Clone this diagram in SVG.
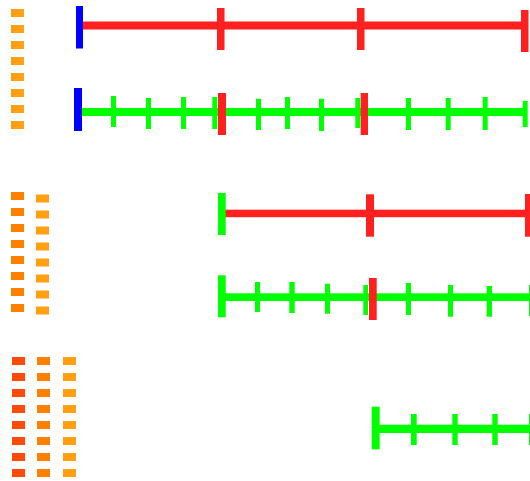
<svg xmlns="http://www.w3.org/2000/svg" width="530" height="481" viewBox="0 0 530 481">
<style>
.o1{fill:#ffa014}.o2{fill:#ff8000}.o3{fill:#ff4a0a}
.r{fill:#ff2020}.g{fill:#00ff00}.b{fill:#0000ff}
</style>
<rect width="530" height="481" fill="#ffffff"/>
<g id="legend1">
<rect class="o1" x="11" y="9" width="13" height="8"/>
<rect class="o1" x="11" y="25" width="13" height="8"/>
<rect class="o1" x="11" y="41" width="13" height="8"/>
<rect class="o1" x="11" y="57" width="13" height="8"/>
<rect class="o1" x="11" y="73" width="13" height="8"/>
<rect class="o1" x="11" y="89" width="13" height="8"/>
<rect class="o1" x="11" y="105" width="13" height="8"/>
<rect class="o1" x="11" y="121" width="13" height="8"/>
</g>
<g id="legend2">
<rect class="o2" x="11" y="192" width="13" height="8"/>
<rect class="o2" x="11" y="208" width="13" height="8"/>
<rect class="o2" x="11" y="224" width="13" height="8"/>
<rect class="o2" x="11" y="240" width="13" height="8"/>
<rect class="o2" x="11" y="256" width="13" height="8"/>
<rect class="o2" x="11" y="272" width="13" height="8"/>
<rect class="o2" x="11" y="288" width="13" height="8"/>
<rect class="o2" x="11" y="304" width="13" height="8"/>
<rect class="o1" x="36" y="194.5" width="13" height="8"/>
<rect class="o1" x="36" y="210.5" width="13" height="8"/>
<rect class="o1" x="36" y="226.5" width="13" height="8"/>
<rect class="o1" x="36" y="242.5" width="13" height="8"/>
<rect class="o1" x="36" y="258.5" width="13" height="8"/>
<rect class="o1" x="36" y="274.5" width="13" height="8"/>
<rect class="o1" x="36" y="290.5" width="13" height="8"/>
<rect class="o1" x="36" y="306.5" width="13" height="8"/>
</g>
<g id="legend3">
<rect class="o3" x="12" y="357" width="13" height="8"/>
<rect class="o3" x="12" y="373" width="13" height="8"/>
<rect class="o3" x="12" y="389" width="13" height="8"/>
<rect class="o3" x="12" y="405" width="13" height="8"/>
<rect class="o3" x="12" y="421" width="13" height="8"/>
<rect class="o3" x="12" y="437" width="13" height="8"/>
<rect class="o3" x="12" y="453" width="13" height="8"/>
<rect class="o3" x="12" y="469" width="13" height="8"/>
<rect class="o2" x="37" y="357" width="13" height="8"/>
<rect class="o2" x="37" y="373" width="13" height="8"/>
<rect class="o2" x="37" y="389" width="13" height="8"/>
<rect class="o2" x="37" y="405" width="13" height="8"/>
<rect class="o2" x="37" y="421" width="13" height="8"/>
<rect class="o2" x="37" y="437" width="13" height="8"/>
<rect class="o2" x="37" y="453" width="13" height="8"/>
<rect class="o2" x="37" y="469" width="13" height="8"/>
<rect class="o1" x="63" y="357" width="13" height="8"/>
<rect class="o1" x="63" y="373" width="13" height="8"/>
<rect class="o1" x="63" y="389" width="13" height="8"/>
<rect class="o1" x="63" y="405" width="13" height="8"/>
<rect class="o1" x="63" y="421" width="13" height="8"/>
<rect class="o1" x="63" y="437" width="13" height="8"/>
<rect class="o1" x="63" y="453" width="13" height="8"/>
<rect class="o1" x="63" y="469" width="13" height="8"/>
</g>
<g id="row1">
<rect class="r" x="83" y="21.5" width="442" height="8"/>
<rect class="b" x="76" y="6" width="7" height="42.5"/>
<rect class="r" x="217" y="8" width="7.5" height="42"/>
<rect class="r" x="357" y="8" width="7.5" height="42"/>
<rect class="r" x="521" y="10" width="7.5" height="42"/>
</g>
<g id="row2">
<rect class="g" x="82" y="108" width="445" height="8"/>
<rect class="b" x="74" y="88" width="8" height="43"/>
<rect class="g" x="111" y="96" width="5" height="31"/>
<rect class="g" x="146" y="98" width="5" height="31"/>
<rect class="g" x="181" y="97" width="5" height="32"/>
<rect class="g" x="212.3" y="97" width="5" height="32"/>
<rect class="r" x="218" y="93" width="8" height="42"/>
<rect class="g" x="256" y="98.7" width="5" height="31.3"/>
<rect class="g" x="285" y="97" width="5" height="32"/>
<rect class="g" x="319" y="98.7" width="5" height="32.3"/>
<rect class="g" x="355.3" y="98" width="5" height="30"/>
<rect class="r" x="360.7" y="93" width="7.3" height="42"/>
<rect class="g" x="406" y="98" width="5" height="32"/>
<rect class="g" x="445.7" y="98" width="5" height="32"/>
<rect class="g" x="482.7" y="97" width="5" height="33"/>
<rect class="g" x="522.7" y="101" width="5" height="26"/>
</g>
<g id="row3">
<rect class="r" x="225" y="209.7" width="305" height="7.5"/>
<rect class="g" x="218" y="193" width="7.7" height="42"/>
<rect class="r" x="366" y="194.3" width="8" height="42.4"/>
<rect class="r" x="525" y="194" width="7" height="42.7"/>
</g>
<g id="row4">
<rect class="g" x="225" y="293.3" width="305" height="7.7"/>
<rect class="g" x="218" y="275.3" width="7.7" height="42"/>
<rect class="g" x="255" y="282" width="5" height="30"/>
<rect class="g" x="289.3" y="282" width="5.4" height="31"/>
<rect class="g" x="325" y="283.7" width="5" height="30"/>
<rect class="g" x="363.3" y="285" width="4.7" height="30"/>
<rect class="r" x="369" y="278" width="7.7" height="42"/>
<rect class="g" x="406" y="283" width="5" height="32"/>
<rect class="g" x="448" y="285" width="5" height="31.7"/>
<rect class="g" x="486.7" y="286" width="5.3" height="30.7"/>
<rect class="g" x="529" y="285" width="5" height="31"/>
</g>
<g id="row5">
<rect class="g" x="379" y="424.7" width="151" height="8.3"/>
<rect class="g" x="371.7" y="406.7" width="8" height="42.6"/>
<rect class="g" x="411" y="414" width="5.7" height="31"/>
<rect class="g" x="452.3" y="414" width="5.4" height="31"/>
<rect class="g" x="492.3" y="414" width="5.4" height="31"/>
<rect class="g" x="529" y="414" width="5" height="31"/>
</g>
</svg>
